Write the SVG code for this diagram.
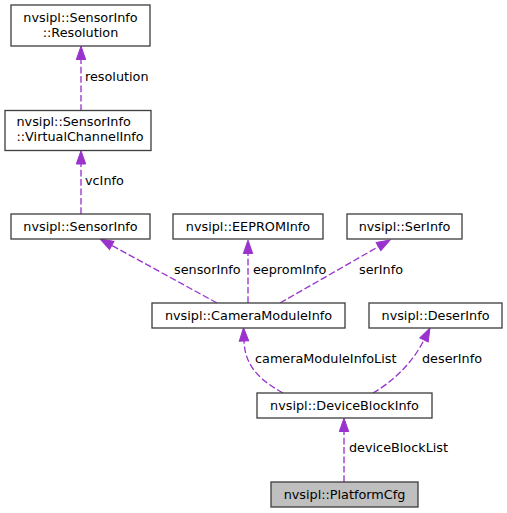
<svg xmlns="http://www.w3.org/2000/svg" width="507" height="513" viewBox="0 0 507 513">
<style>
.box{fill:#ffffff;stroke:#404040;stroke-width:1.33}
.cur{fill:#bfbfbf;stroke:#404040;stroke-width:1.33}
text{font-family:"DejaVu Sans","Liberation Sans",sans-serif;font-size:12.8px;fill:#000000}
.c{text-anchor:middle}
.e{fill:none;stroke:#9a32cd;stroke-width:1.33;stroke-dasharray:6.7,2.7;marker-end:url(#ah)}
</style>
<defs>
<marker id="ah" markerUnits="userSpaceOnUse" markerWidth="16" markerHeight="12" refX="0" refY="4.7" orient="auto" viewBox="0 0 16 12" overflow="visible">
<path d="M0,0 L13.3,4.7 L0,9.4 Z" fill="#9a32cd" stroke="#9a32cd" stroke-width="1"/>
</marker>
</defs>
<g id="connectors">
<path class="e" d="M81,111 L81,59.5"/>
<text x="85" y="81">resolution</text>
<path class="e" d="M81,214 L81,164"/>
<text x="85" y="185">vcInfo</text>
<path class="e" d="M217,303 L111.7,245.4"/>
<text x="174" y="274">sensorInfo</text>
<path class="e" d="M248,303 L248,253.5"/>
<text x="253" y="274">eepromInfo</text>
<path class="e" d="M280,303 L378.5,246.6"/>
<text x="359" y="274">serInfo</text>
<path class="e" d="M283,393 C262,381 245,368 244,341"/>
<text x="255" y="363">cameraModuleInfoList</text>
<path class="e" d="M373,393 C392,382 412,364 424,340"/>
<text x="422" y="363">deserInfo</text>
<path class="e" d="M344,482 L344,431.5"/>
<text x="349" y="452">deviceBlockList</text>
</g>
<g id="node_resolution">
<rect class="box" x="11" y="5" width="139" height="41"/>
<text class="c" x="80.5" y="22">nvsipl::SensorInfo</text>
<text class="c" x="80.5" y="37">::Resolution</text>
</g>
<g id="node_vcinfo">
<rect class="box" x="5" y="110.5" width="146" height="40"/>
<text x="16.5" y="126">nvsipl::SensorInfo</text>
<text x="16.5" y="141">::VirtualChannelInfo</text>
</g>
<g id="node_sensorinfo">
<rect class="box" x="11" y="214" width="139" height="25"/>
<text class="c" x="80.5" y="230.5">nvsipl::SensorInfo</text>
</g>
<g id="node_eeprominfo">
<rect class="box" x="173" y="214" width="150" height="25"/>
<text class="c" x="248" y="230.5">nvsipl::EEPROMInfo</text>
</g>
<g id="node_serinfo">
<rect class="box" x="347" y="214" width="115" height="25"/>
<text class="c" x="404.5" y="230.5">nvsipl::SerInfo</text>
</g>
<g id="node_cameramoduleinfo">
<rect class="box" x="152" y="303" width="193" height="25"/>
<text class="c" x="248.5" y="319.5">nvsipl::CameraModuleInfo</text>
</g>
<g id="node_deserinfo">
<rect class="box" x="369" y="303" width="133" height="25"/>
<text class="c" x="435.5" y="319.5">nvsipl::DeserInfo</text>
</g>
<g id="node_deviceblockinfo">
<rect class="box" x="257" y="393" width="175" height="25"/>
<text class="c" x="344.5" y="409.5">nvsipl::DeviceBlockInfo</text>
</g>
<g id="node_platformcfg">
<rect class="cur" x="271" y="482" width="147" height="25"/>
<text class="c" x="344.5" y="498.5">nvsipl::PlatformCfg</text>
</g>
</svg>
